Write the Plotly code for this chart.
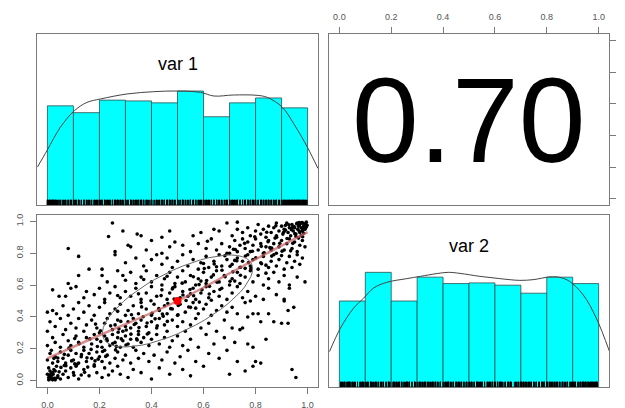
import numpy as np
import plotly.graph_objects as go

W, H = 625, 408

# ---------------- data ----------------
bin_edges = [0.0, 0.1, 0.2, 0.3, 0.4, 0.5, 0.6, 0.7, 0.8, 0.9, 1.0]
# bar heights, normalised so the tallest bar = 1 (as in psych::pairs.panels)
var1_hist = [0.87, 0.81, 0.92, 0.913, 0.896, 1.0, 0.774, 0.896, 0.939, 0.852]
var2_hist = [0.75, 1.0, 0.75, 0.958, 0.902, 0.908, 0.888, 0.818, 0.958, 0.902]

var1_dens_x = [-0.038, -0.001, 0.05, 0.104, 0.152, 0.204, 0.306, 0.409, 0.499, 0.588,
               0.64, 0.716, 0.806, 0.845, 0.903, 0.947, 0.999, 1.04]
var1_dens_y = [0.334, 0.48, 0.683, 0.828, 0.90, 0.93, 0.974, 0.994, 1.0, 0.988,
               0.956, 0.965, 0.962, 0.944, 0.857, 0.712, 0.508, 0.32]

var2_dens_x = [-0.038, 0.004, 0.055, 0.094, 0.132, 0.183, 0.26, 0.312, 0.376, 0.42, 0.465,
               0.542, 0.619, 0.696, 0.747, 0.812, 0.85, 0.888, 0.94, 0.991, 1.042]
var2_dens_y = [0.309, 0.513, 0.688, 0.776, 0.863, 0.913, 0.945, 0.965, 0.989, 1.0, 0.991,
               0.965, 0.945, 0.93, 0.936, 0.96, 0.956, 0.921, 0.805, 0.601, 0.309]

smooth_x = [0.0, 0.2, 0.5, 0.78, 1.0]
smooth_y = [0.14, 0.285, 0.50, 0.745, 0.933]

mean_x, mean_y = 0.5, 0.5
sd_x, sd_y = 0.2887, 0.2887
r_value = 0.70
r_label = "0.70"

var_names = ["var 1", "var 2"]
tick_vals = [0.0, 0.2, 0.4, 0.6, 0.8, 1.0]
tick_text = ["0.0", "0.2", "0.4", "0.6", "0.8", "1.0"]

# (var 1, var 2) pairs estimated from the scatter panel
var_pairs = [
    # y 0.0-0.1
    (0.01,0.01),(0.02,0.005),(0.005,0.02),(0.015,0.03),(0.03,0.015),(0.00,0.04),(0.02,0.05),(0.04,0.03),
    (0.01,0.06),(0.025,0.07),(0.05,0.01),(0.06,0.04),(0.035,0.09),(0.07,0.06),(0.08,0.02),(0.09,0.08),
    (0.10,0.05),(0.12,0.01),(0.11,0.09),(0.14,0.07),(0.16,0.03),(0.18,0.09),(0.19,0.05),(0.22,0.08),
    (0.21,0.02),(0.25,0.06),(0.28,0.04),(0.27,0.09),(0.31,0.02),(0.33,0.07),(0.36,0.05),(0.40,0.01),
    (0.43,0.08),(0.47,0.04),(0.52,0.07),(0.55,0.03),(0.60,0.09),(0.70,0.04),(0.76,0.06),(0.79,0.09),
    (0.94,0.07),(0.955,0.02),(0.005,0.08),(0.045,0.055),(0.13,0.035),(0.065,0.095),(0.025,0.015),
    (0.015,0.045),(0.155,0.085),(0.235,0.035),
    # y 0.1-0.2
    (0.00,0.13),(0.01,0.17),(0.02,0.11),(0.015,0.19),(0.03,0.15),(0.04,0.12),(0.05,0.18),(0.06,0.14),
    (0.07,0.11),(0.08,0.16),(0.09,0.19),(0.10,0.13),(0.11,0.17),(0.12,0.11),(0.13,0.15),(0.14,0.19),
    (0.15,0.12),(0.16,0.17),(0.17,0.14),(0.18,0.10),(0.19,0.18),(0.20,0.15),(0.21,0.12),(0.22,0.19),
    (0.23,0.16),(0.24,0.11),(0.26,0.14),(0.27,0.18),(0.29,0.13),(0.30,0.16),(0.32,0.11),(0.34,0.19),
    (0.35,0.14),(0.37,0.17),(0.39,0.12),(0.41,0.16),(0.44,0.13),(0.46,0.18),(0.49,0.11),(0.51,0.15),
    (0.54,0.19),(0.57,0.12),(0.62,0.17),(0.66,0.14),(0.73,0.12),(0.80,0.12),(0.82,0.11),(0.69,0.19),
    (0.025,0.14),(0.065,0.165),(0.105,0.105),(0.195,0.135),
    # y 0.2-0.3
    (0.00,0.22),(0.02,0.27),(0.03,0.24),(0.05,0.21),(0.06,0.29),(0.08,0.25),(0.09,0.22),(0.11,0.28),
    (0.12,0.24),(0.14,0.21),(0.15,0.27),(0.17,0.23),(0.18,0.29),(0.19,0.26),(0.21,0.21),(0.22,0.28),
    (0.23,0.25),(0.24,0.22),(0.25,0.29),(0.26,0.24),(0.27,0.27),(0.28,0.21),(0.29,0.25),(0.30,0.28),
    (0.31,0.23),(0.32,0.26),(0.33,0.21),(0.35,0.29),(0.36,0.24),(0.37,0.27),(0.39,0.22),(0.40,0.26),
    (0.42,0.29),(0.43,0.23),(0.45,0.27),(0.47,0.21),(0.48,0.25),(0.50,0.28),(0.52,0.22),(0.55,0.26),
    (0.58,0.21),(0.61,0.29),(0.64,0.23),(0.68,0.27),(0.72,0.24),(0.77,0.23),(0.79,0.21),(0.84,0.26),
    (0.265,0.215),(0.345,0.255),(0.205,0.245),(0.105,0.265),
    # y 0.3-0.4
    (0.00,0.31),(0.01,0.37),(0.03,0.34),(0.05,0.39),(0.07,0.32),(0.09,0.36),(0.11,0.33),(0.12,0.39),
    (0.14,0.31),(0.15,0.35),(0.17,0.38),(0.19,0.33),(0.20,0.30),(0.22,0.36),(0.23,0.39),(0.25,0.32),
    (0.26,0.35),(0.27,0.38),(0.29,0.31),(0.30,0.34),(0.31,0.37),(0.32,0.33),(0.33,0.39),(0.34,0.36),
    (0.35,0.31),(0.36,0.38),(0.38,0.34),(0.39,0.30),(0.40,0.37),(0.42,0.33),(0.43,0.39),(0.45,0.35),
    (0.46,0.31),(0.48,0.38),(0.50,0.34),(0.52,0.37),(0.53,0.31),(0.55,0.35),(0.57,0.39),(0.59,0.33),
    (0.62,0.36),(0.65,0.31),(0.68,0.38),(0.71,0.33),(0.74,0.32),(0.75,0.33),(0.82,0.37),(0.87,0.37),
    (0.90,0.36),(0.925,0.36),(0.275,0.325),(0.185,0.355),
    # y 0.4-0.5
    (0.00,0.43),(0.02,0.44),(0.035,0.42),(0.06,0.47),(0.08,0.41),(0.10,0.45),(0.12,0.49),(0.14,0.43),
    (0.16,0.47),(0.18,0.41),(0.20,0.46),(0.22,0.49),(0.24,0.42),(0.26,0.45),(0.28,0.48),(0.30,0.41),
    (0.31,0.44),(0.33,0.47),(0.35,0.42),(0.36,0.49),(0.38,0.45),(0.40,0.41),(0.41,0.48),(0.43,0.44),
    (0.45,0.47),(0.46,0.42),(0.48,0.45),(0.50,0.41),(0.51,0.48),(0.53,0.43),(0.55,0.46),(0.56,0.49),
    (0.58,0.42),(0.60,0.45),(0.61,0.48),(0.63,0.41),(0.65,0.44),(0.67,0.47),(0.69,0.43),(0.71,0.46),
    (0.73,0.42),(0.76,0.49),(0.77,0.40),(0.79,0.42),(0.81,0.42),(0.85,0.42),(0.925,0.44),(0.947,0.46),
    (0.91,0.50),(0.27,0.435),(0.445,0.405),(0.57,0.455),
    # y 0.5-0.6
    (0.02,0.57),(0.045,0.53),(0.07,0.53),(0.09,0.58),(0.11,0.59),(0.14,0.52),(0.15,0.56),(0.18,0.54),
    (0.20,0.58),(0.22,0.51),(0.24,0.55),(0.26,0.59),(0.28,0.52),(0.30,0.56),(0.32,0.53),(0.34,0.58),
    (0.36,0.51),(0.38,0.55),(0.40,0.59),(0.42,0.53),(0.44,0.57),(0.46,0.51),(0.47,0.55),(0.49,0.59),
    (0.51,0.52),(0.52,0.56),(0.54,0.53),(0.56,0.58),(0.57,0.51),(0.59,0.55),(0.61,0.59),(0.62,0.52),
    (0.64,0.56),(0.66,0.53),(0.67,0.58),(0.69,0.51),(0.71,0.55),(0.73,0.59),(0.75,0.52),(0.77,0.56),
    (0.78,0.50),(0.80,0.53),(0.83,0.51),(0.85,0.58),(0.88,0.54),(0.91,0.51),(0.93,0.58),(0.35,0.545),
    (0.48,0.575),(0.63,0.505),(0.27,0.535),(0.55,0.545),
    # y 0.6-0.7
    (0.08,0.61),(0.12,0.66),(0.16,0.70),(0.21,0.70),(0.21,0.66),(0.23,0.62),(0.27,0.69),(0.29,0.66),
    (0.30,0.63),(0.32,0.68),(0.34,0.61),(0.36,0.65),(0.38,0.69),(0.40,0.62),(0.42,0.66),(0.44,0.60),
    (0.45,0.64),(0.47,0.68),(0.49,0.61),(0.50,0.65),(0.52,0.69),(0.53,0.62),(0.55,0.66),(0.57,0.60),
    (0.58,0.64),(0.60,0.68),(0.61,0.61),(0.63,0.65),(0.65,0.69),(0.66,0.62),(0.68,0.66),(0.70,0.60),
    (0.71,0.64),(0.73,0.68),(0.74,0.61),(0.76,0.65),(0.78,0.69),(0.79,0.62),(0.81,0.66),(0.83,0.60),
    (0.85,0.64),(0.87,0.68),(0.89,0.62),(0.91,0.66),(0.93,0.60),(0.96,0.65),(0.99,0.62),(0.59,0.625),
    (0.46,0.655),(0.72,0.625),(0.84,0.675),(0.37,0.635),
    # y 0.7-0.8
    (0.12,0.78),(0.26,0.79),(0.30,0.74),(0.34,0.77),(0.37,0.72),(0.40,0.76),(0.42,0.79),(0.44,0.73),
    (0.46,0.77),(0.48,0.71),(0.50,0.75),(0.52,0.79),(0.54,0.72),(0.56,0.76),(0.58,0.70),(0.59,0.74),
    (0.61,0.78),(0.62,0.71),(0.64,0.75),(0.66,0.79),(0.67,0.72),(0.69,0.76),(0.70,0.80),(0.71,0.73),
    (0.73,0.77),(0.74,0.71),(0.75,0.75),(0.77,0.79),(0.78,0.72),(0.79,0.76),(0.81,0.70),(0.82,0.74),
    (0.83,0.78),(0.85,0.71),(0.86,0.75),(0.87,0.79),(0.88,0.72),(0.89,0.76),(0.91,0.70),(0.92,0.74),
    (0.93,0.78),(0.94,0.71),(0.95,0.75),(0.96,0.79),(0.97,0.73),(0.98,0.77),(0.60,0.735),(0.72,0.755),
    (0.84,0.725),(0.90,0.785),(0.76,0.705),(0.65,0.715),
    # y 0.8-0.9
    (0.08,0.83),(0.26,0.81),(0.31,0.85),(0.32,0.84),(0.38,0.82),(0.40,0.88),(0.44,0.80),(0.47,0.84),
    (0.49,0.87),(0.52,0.85),(0.55,0.81),(0.58,0.86),(0.61,0.83),(0.63,0.89),(0.65,0.82),(0.67,0.86),
    (0.69,0.80),(0.70,0.84),(0.72,0.88),(0.73,0.81),(0.74,0.85),(0.75,0.89),(0.76,0.83),(0.77,0.87),
    (0.78,0.81),(0.79,0.85),(0.80,0.89),(0.81,0.82),(0.82,0.86),(0.83,0.80),(0.84,0.84),(0.85,0.88),
    (0.86,0.82),(0.87,0.86),(0.88,0.80),(0.89,0.84),(0.90,0.88),(0.91,0.82),(0.92,0.86),(0.93,0.89),
    (0.94,0.83),(0.95,0.87),(0.96,0.81),(0.97,0.85),(0.98,0.88),(0.99,0.84),(0.935,0.815),(0.875,0.895),
    (0.965,0.895),(0.855,0.835),(0.715,0.825),(0.615,0.875),
    # y 0.9-1.0
    (0.25,0.99),(0.29,0.94),(0.235,0.905),(0.345,0.92),(0.36,0.91),(0.44,0.90),(0.47,0.94),(0.56,0.91),
    (0.59,0.93),(0.64,0.95),(0.66,0.94),(0.69,0.99),(0.73,0.995),(0.73,0.95),(0.71,0.91),(0.75,0.93),
    (0.77,0.96),(0.78,0.91),(0.80,0.94),(0.81,0.98),(0.82,0.92),(0.83,0.95),(0.84,0.90),(0.85,0.97),
    (0.86,0.93),(0.87,0.96),(0.88,0.91),(0.88,0.99),(0.89,0.94),(0.90,0.97),(0.905,0.92),(0.91,0.95),
    (0.92,0.99),(0.925,0.93),(0.93,0.96),(0.935,0.91),(0.94,0.98),(0.945,0.94),(0.95,0.96),(0.955,0.92),
    (0.96,0.99),(0.962,0.95),(0.965,0.97),(0.97,0.93),(0.972,0.985),(0.975,0.96),(0.98,0.94),(0.982,0.99),
    (0.985,0.97),(0.99,0.95),(0.992,0.985),(0.995,0.965),(0.975,0.91),(0.955,0.905),(0.915,0.975),
    (0.985,0.925),
    # extra points crowding the diagonal band
    (0.03,0.06),(0.052,0.083),(0.071,0.094),(0.093,0.124),(0.113,0.102),(0.131,0.163),(0.152,0.143),
    (0.168,0.196),(0.192,0.214),(0.212,0.183),(0.228,0.262),(0.251,0.233),(0.272,0.304),(0.284,0.262),
    (0.303,0.318),(0.321,0.292),(0.334,0.352),(0.352,0.334),(0.368,0.401),(0.383,0.362),(0.402,0.423),
    (0.414,0.388),(0.428,0.452),(0.442,0.418),(0.463,0.484),(0.474,0.452),(0.487,0.512),(0.503,0.472),
    (0.521,0.538),(0.533,0.503),(0.548,0.572),(0.562,0.533),(0.583,0.603),(0.594,0.571),(0.612,0.628),
    (0.623,0.592),(0.638,0.664),(0.652,0.618),(0.671,0.693),(0.683,0.652),(0.702,0.718),(0.713,0.683),
    (0.728,0.752),(0.742,0.712),(0.761,0.783),(0.773,0.741),(0.788,0.812),(0.801,0.772),(0.822,0.843),
    (0.833,0.803),(0.848,0.872),(0.862,0.832),(0.881,0.901),(0.893,0.862),(0.908,0.932),(0.921,0.892),
    (0.942,0.962),(0.951,0.923),(0.968,0.992),(0.983,0.952),
    (0.04,0.142),(0.083,0.204),(0.122,0.232),(0.163,0.262),(0.204,0.313),(0.243,0.344),(0.282,0.372),
    (0.323,0.414),(0.362,0.463),(0.398,0.502),(0.437,0.534),(0.482,0.583),(0.518,0.612),(0.561,0.652),
    (0.603,0.704),(0.641,0.732),(0.682,0.784),(0.722,0.823),(0.758,0.862),(0.797,0.903),(0.843,0.932),
    (0.878,0.972),
    (0.102,0.034),(0.143,0.052),(0.183,0.124),(0.224,0.152),(0.262,0.193),(0.302,0.224),(0.343,0.262),
    (0.384,0.293),(0.422,0.344),(0.461,0.372),(0.502,0.414),(0.543,0.462),(0.584,0.493),(0.622,0.544),
    (0.663,0.572),(0.702,0.624),(0.742,0.662),(0.782,0.703),(0.823,0.734),(0.862,0.782),(0.902,0.813),
    (0.943,0.862),(0.981,0.903),
    (0.005,0.005),(0.012,0.025),(0.03,0.005),(0.018,0.012),(0.04,0.02),(0.008,0.035),(0.022,0.04),
    (0.995,0.995),(0.988,0.978),(0.978,0.992),(0.968,0.975),(0.958,0.985),(0.948,0.968),(0.992,0.958),
    (0.982,0.948),(0.938,0.948),(0.928,0.978),(0.998,0.975),(0.968,0.94),(0.915,0.945),
]

# ---------------- styling ----------------
FONT = "Liberation Sans, Arial, sans-serif"
BOX = "#7a7a7a"
TICKLAB = "#555555"
HIST_FILL = "#00FFFF"

var1 = [p[0] for p in var_pairs]
var2 = [p[1] for p in var_pairs]
centers = [(a + b) / 2 for a, b in zip(bin_edges[:-1], bin_edges[1:])]
widths = [b - a for a, b in zip(bin_edges[:-1], bin_edges[1:])]

fig = go.Figure()

def rug(vals, xa, ya):
    xs, ys = [], []
    for v in vals:
        xs += [v, v, None]
        ys += [0, 0.045, None]
    return go.Scatter(x=xs, y=ys, mode="lines", line=dict(color="black", width=1),
                      xaxis=xa, yaxis=ya, hoverinfo="skip", showlegend=False)

# top-left: histogram var 1
fig.add_trace(go.Bar(x=centers, y=var1_hist, width=widths, marker=dict(color=HIST_FILL, line=dict(color="#2f4f4f", width=0.8)),
                     xaxis="x", yaxis="y", showlegend=False))
fig.add_trace(go.Scatter(x=var1_dens_x, y=var1_dens_y, mode="lines", line=dict(color="#444", width=1, shape="spline"),
                         xaxis="x", yaxis="y", showlegend=False))
fig.add_trace(rug(var1, "x", "y"))

# bottom-right: histogram var 2
fig.add_trace(go.Bar(x=centers, y=var2_hist, width=widths, marker=dict(color=HIST_FILL, line=dict(color="#2f4f4f", width=0.8)),
                     xaxis="x4", yaxis="y4", showlegend=False))
fig.add_trace(go.Scatter(x=var2_dens_x, y=var2_dens_y, mode="lines", line=dict(color="#444", width=1, shape="spline"),
                         xaxis="x4", yaxis="y4", showlegend=False))
fig.add_trace(rug(var2, "x4", "y4"))

# bottom-left: scatter
fig.add_trace(go.Scatter(x=var1, y=var2, mode="markers", marker=dict(color="black", size=3.6),
                         xaxis="x3", yaxis="y3", showlegend=False))
# correlation ellipse (psych draw.ellipse)
ang = np.linspace(0, 2 * np.pi, 52)
th = 1 / np.sqrt(2)
ex = (np.cos(ang) * np.sqrt(1 + r_value) * th - np.sin(ang) * np.sqrt(1 - r_value) * th) * sd_x + mean_x
ey = (np.cos(ang) * np.sqrt(1 + r_value) * th + np.sin(ang) * np.sqrt(1 - r_value) * th) * sd_y + mean_y
fig.add_trace(go.Scatter(x=ex, y=ey, mode="lines", line=dict(color="#6a6a6a", width=1),
                         xaxis="x3", yaxis="y3", showlegend=False))
fig.add_trace(go.Scatter(x=smooth_x, y=smooth_y, mode="lines", line=dict(color="rgba(200,95,95,0.7)", width=2.5, shape="spline"),
                         xaxis="x3", yaxis="y3", showlegend=False))
fig.add_trace(go.Scatter(x=[mean_x], y=[mean_y], mode="markers", marker=dict(color="red", size=8),
                         xaxis="x3", yaxis="y3", showlegend=False))

# top-right: empty panel with r value
fig.add_trace(go.Scatter(x=[None], y=[None], xaxis="x2", yaxis="y2", showlegend=False))

col1 = [37 / W, 318 / W]
col2 = [329 / W, 609 / W]
row1 = [1 - 205 / H, 1 - 34 / H]
row2 = [1 - 387 / H, 1 - 215 / H]

def ax(domain, rng, anchor, show=False, side=None, angle=None, standoff=3):
    d = dict(domain=domain, range=rng, anchor=anchor, showgrid=False, zeroline=False, automargin=False,
             showline=True, mirror=True, linecolor=BOX, linewidth=1, fixedrange=True)
    if show:
        d.update(ticks="outside", ticklen=6, tickcolor=BOX, tickwidth=1, tickvals=tick_vals, ticktext=tick_text,
                 tickfont=dict(family=FONT, size=9, color=TICKLAB), ticklabelstandoff=standoff)
        if side:
            d["side"] = side
        if angle is not None:
            d["tickangle"] = angle
    else:
        d.update(showticklabels=False, ticks="")
    return d

R01 = [-0.04, 1.04]
fig.update_layout(
    template="none",
    width=W, height=H, autosize=False,
    margin=dict(l=0, r=0, t=0, b=0, pad=0),
    paper_bgcolor="white", plot_bgcolor="white",
    bargap=0,
    xaxis=ax(col1, R01, "y"),
    yaxis=ax(row1, [0, 1.5], "x"),
    xaxis2=ax(col2, R01, "y2", show=True, side="top"),
    yaxis2=ax(row1, R01, "x2", show=True, side="right", angle=-90, standoff=7),
    xaxis3=ax(col1, R01, "y3", show=True, side="bottom"),
    yaxis3=ax(row2, R01, "x3", show=True, side="left", angle=-90),
    xaxis4=ax(col2, R01, "y4"),
    yaxis4=ax(row2, [0, 1.5], "x4"),
    annotations=[
        dict(text=var_names[0], x=0.5, y=1.237, xref="x", yref="y", showarrow=False,
             font=dict(family=FONT, size=18, color="black"), xanchor="center", yanchor="middle"),
        dict(text=var_names[1], x=0.5, y=1.228, xref="x4", yref="y4", showarrow=False,
             font=dict(family=FONT, size=18, color="black"), xanchor="center", yanchor="middle"),
        dict(text=r_label, x=0.5, y=0.5, xref="x2", yref="y2", showarrow=False,
             font=dict(family=FONT, size=120, color="black"), xanchor="center", yanchor="middle"),
    ],
)

fig.write_html("out.html", config={"displayModeBar": False, "staticPlot": True},
               post_script="document.body.style.margin='0';document.body.style.overflow='hidden';")
